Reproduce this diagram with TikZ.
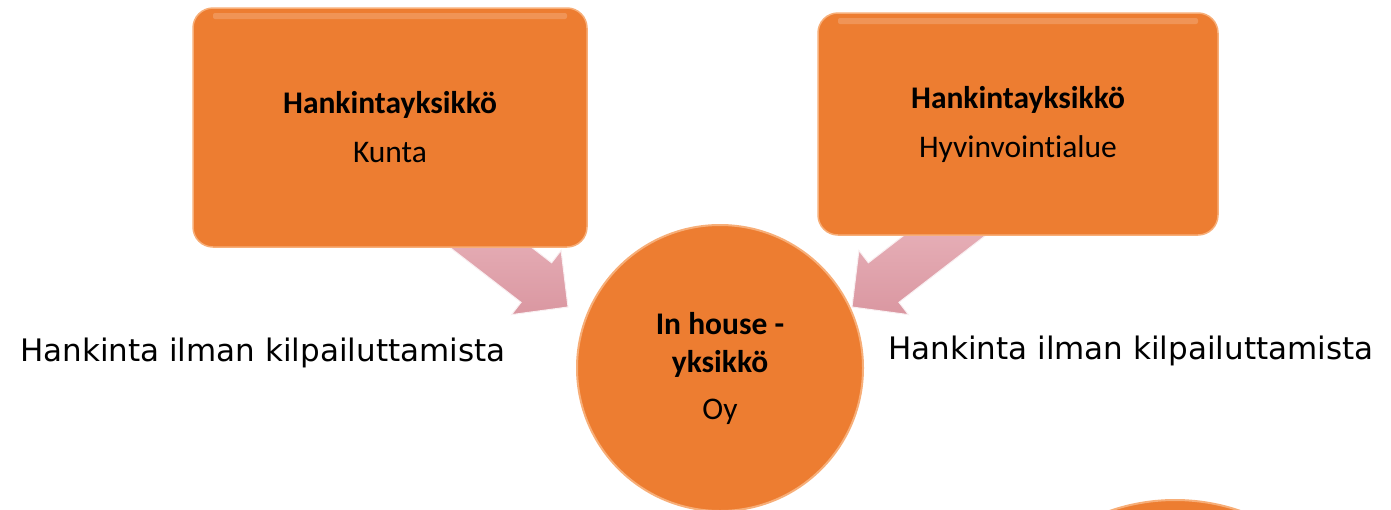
\documentclass[tikz,border=0pt]{standalone}
\usepackage{fontspec}
\setmainfont{Carlito}[Ligatures=NoCommon]
\newfontfamily\notefont{DejaVu Sans}
\usetikzlibrary{calc,backgrounds}
\definecolor{unitorange}{HTML}{ED7D31}
\definecolor{unitrim}{HTML}{F7AE78}
\definecolor{arrowlight}{HTML}{EFC0C7}
\definecolor{arrowdark}{HTML}{DA97A1}
% block arrow from #1 to #2 (shaft 50, head 81 x 40)
\newcommand{\blockarrow}[2]{%
  \path (#1) coordinate (s) (#2) coordinate (t) ($(t)!40pt!(s)$) coordinate (b);
  \draw[arrowbody]
    ($(s)!25pt!90:(t)$) -- ($(b)!25pt!90:(t)$) -- ($(b)!40.5pt!90:(t)$)
    -- (t) -- ($(b)!40.5pt!-90:(t)$) -- ($(b)!25pt!-90:(t)$)
    -- ($(s)!25pt!-90:(t)$) -- cycle;
}
\begin{document}
\begin{tikzpicture}[x=1pt,y=-1pt,
    unitbox/.style={draw=unitrim,line width=1.5pt,fill=unitorange,
      rounded corners=20pt,align=center,
      font=\fontsize{31.5}{49}\selectfont,
      path picture={\fill[white,opacity=0.18,rounded corners=2pt]
        ([xshift=20pt,yshift=-5pt]path picture bounding box.north west)
        rectangle ([xshift=-20pt,yshift=-11pt]path picture bounding box.north east);}},
    unitcirc/.style={circle,draw=unitrim,line width=2pt,fill=unitorange,
      inner sep=0pt,align=center,font=\fontsize{31.5}{38}\selectfont},
    arrowbody/.style={draw=white!85!arrowdark,line width=1pt,
      top color=arrowlight,bottom color=arrowdark},
    note/.style={font=\notefont\fontsize{31}{36}\selectfont,inner sep=0pt}]
  \path[use as bounding box,clip] (0,0) rectangle (1391,509);
  \node[unitbox,minimum width=394pt,minimum height=239pt] (kunta) at (390,127.5)
    {\textbf{Hankintayksikkö}\\Kunta};
  \node[unitbox,minimum width=400pt,minimum height=222pt] (hva) at (1018,124)
    {\textbf{Hankintayksikkö}\\Hyvinvointialue};
  \node[unitcirc,minimum size=286pt] (inhouse) at (720,368)
    {\textbf{In house -}\\\textbf{yksikkö}\\[9pt]Oy};
  \node[unitcirc,minimum size=400pt] (next) at (1175,700) {};
  \node[note,anchor=base west] (leftnote) at (20,361) {Hankinta ilman kilpailuttamista};
  \node[note,anchor=base west] (rightnote) at (888,359) {Hankinta ilman kilpailuttamista};
  \coordinate (kfrom) at (410,185);
  \coordinate (kto) at (568,307);
  \coordinate (hfrom) at (1010,185);
  \coordinate (hto) at (852,307);
  \begin{pgfonlayer}{background}
    \blockarrow{kfrom}{kto}
    \blockarrow{hfrom}{hto}
  \end{pgfonlayer}
\end{tikzpicture}
\end{document}
